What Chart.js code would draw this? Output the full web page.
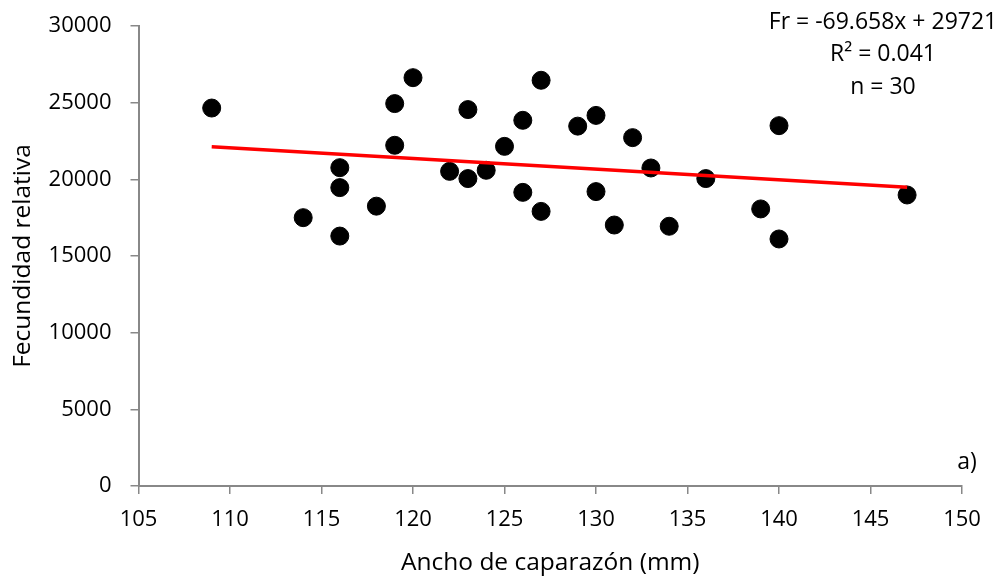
<!DOCTYPE html>
<html>
<head>
<meta charset="utf-8">
<script src="https://cdn.jsdelivr.net/npm/chart.js@4.4.1/dist/chart.umd.min.js"></script>
<style>
  html, body { margin: 0; padding: 0; background: #fff; }
  canvas { display: block; }
</style>
</head>
<body>
<canvas id="grafico" width="1005" height="578"></canvas>
<script>
// Ancho de caparazón (mm) y fecundidad relativa
const ancho = [109, 114, 116, 116, 116, 118, 119, 119, 120, 122,
               123, 123, 124, 125, 126, 126, 127, 127, 129, 130,
               130, 131, 132, 133, 134, 136, 139, 140, 140, 147];
const fecundidad = [24650, 17500, 20760, 19460, 16300, 18250, 22220, 24940, 26630, 20520,
                    24550, 20050, 20590, 22150, 23850, 19150, 26460, 17910, 23470, 24170,
                    19200, 17020, 22720, 20740, 16940, 20050, 18070, 23500, 16110, 18980];

// Recta de regresión: Fr = -69.658x + 29721
const pendiente = -69.658;
const intercepto = 29721;
const rangoTendencia = [109, 147];

const ticksX = [105, 110, 115, 120, 125, 130, 135, 140, 145, 150];
const ticksY = [0, 5000, 10000, 15000, 20000, 25000, 30000];

const anotaciones = ['Fr = -69.658x + 29721', 'R² = 0.041', 'n = 30'];
const etiquetaPanel = 'a)';

const FUENTE = "'Open Sans', sans-serif";
const GRIS = '#888888';

const puntos = ancho.map((x, i) => ({ x, y: fecundidad[i] }));
const tendencia = rangoTendencia.map(x => ({ x, y: pendiente * x + intercepto }));

// 游닇 Textos sobre el área del gráfico
const textosPlugin = {
  id: 'textos',
  afterDraw(chart) {
    const ctx = chart.ctx;
    ctx.save();
    ctx.fillStyle = '#000';
    ctx.font = `23px ${FUENTE}`;
    ctx.textAlign = 'center';
    ctx.textBaseline = 'middle';
    anotaciones.forEach((t, i) => ctx.fillText(t, 883, 22 + i * 32.5));
    ctx.fillText(etiquetaPanel, 967, 462);
    ctx.restore();
  }
};

new Chart(document.getElementById('grafico'), {
  type: 'scatter',
  data: {
    datasets: [
      {
        label: 'Tendencia',
        type: 'line',
        data: tendencia,
        borderColor: '#FF0000',
        borderWidth: 3.5,
        pointRadius: 0,
        fill: false,
        order: 0
      },
      {
        label: 'Fecundidad',
        data: puntos,
        backgroundColor: '#000',
        borderColor: '#000',
        pointRadius: 9,
        order: 1
      }
    ]
  },
  options: {
    responsive: false,
    animation: false,
    layout: { padding: { top: 26, right: 43, left: 0, bottom: 0 } },
    plugins: {
      legend: { display: false },
      tooltip: { enabled: false }
    },
    scales: {
      x: {
        type: 'linear',
        min: 105,
        max: 150,
        afterBuildTicks: s => { s.ticks = ticksX.map(v => ({ value: v })); },
        afterFit: s => { s.height = 92; },
        grid: { drawOnChartArea: false, drawTicks: true, tickLength: 8, color: GRIS, lineWidth: 1.5 },
        border: { color: GRIS, width: 2 },
        ticks: { color: '#000', font: { family: FUENTE, size: 22 }, padding: 13, maxRotation: 0, autoSkip: false, callback: v => String(v) },
        title: { display: true, text: 'Ancho de caparazón (mm)', color: '#000', font: { family: FUENTE, size: 24.5 }, padding: { top: 0, bottom: 0 } }
      },
      y: {
        min: 0,
        max: 30000,
        afterBuildTicks: s => { s.ticks = ticksY.map(v => ({ value: v })); },
        afterFit: s => { s.width = 138.5; s.paddingTop = 0; s.paddingBottom = 0; },
        grid: { drawOnChartArea: false, drawTicks: true, tickLength: 8, color: GRIS, lineWidth: 1.5 },
        border: { color: GRIS, width: 2 },
        ticks: { color: '#000', font: { family: FUENTE, size: 22 }, padding: 19, autoSkip: false, callback: v => String(v) },
        title: { display: true, text: 'Fecundidad relativa', color: '#000', font: { family: FUENTE, size: 24.5 }, padding: { top: 8, bottom: 0 } }
      }
    }
  },
  plugins: [textosPlugin]
});
</script>
</body>
</html>
